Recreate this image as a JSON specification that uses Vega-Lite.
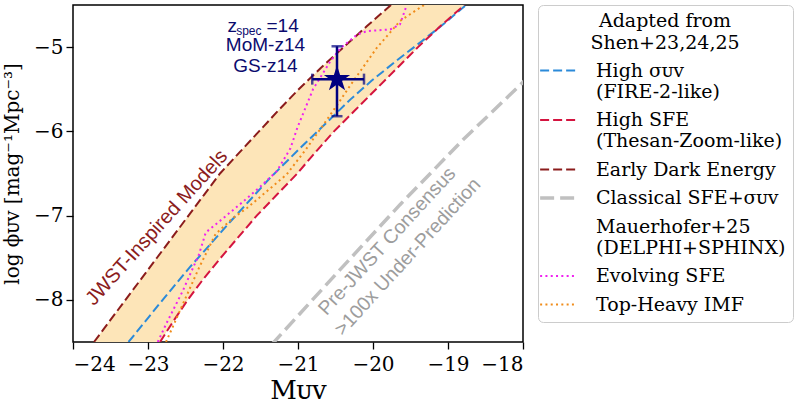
{
  "$schema": "https://vega.github.io/schema/vega-lite/v6.json",
  "width": 450,
  "height": 337,
  "padding": {"left": 2, "top": 4, "right": 5, "bottom": 2},
  "background": "white",
  "datasets": {
    "curves": [
      {"id": "sig", "M": -23.26, "phi": -8.5}, {"id": "sig", "M": -22.85, "phi": -8.05},
      {"id": "sig", "M": -22.45, "phi": -7.62}, {"id": "sig", "M": -21.9, "phi": -7.07},
      {"id": "sig", "M": -21.37, "phi": -6.55}, {"id": "sig", "M": -20.95, "phi": -6.18},
      {"id": "sig", "M": -20.6, "phi": -5.88}, {"id": "sig", "M": -20.3, "phi": -5.62},
      {"id": "sig", "M": -20.02, "phi": -5.4}, {"id": "sig", "M": -19.7, "phi": -5.17},
      {"id": "sig", "M": -19.35, "phi": -4.93}, {"id": "sig", "M": -19.05, "phi": -4.72},
      {"id": "sig", "M": -18.76, "phi": -4.5},

      {"id": "sfe", "M": -22.84, "phi": -8.5}, {"id": "sfe", "M": -22.66, "phi": -8.25},
      {"id": "sfe", "M": -22.47, "phi": -8.0}, {"id": "sfe", "M": -22.26, "phi": -7.75},
      {"id": "sfe", "M": -22.03, "phi": -7.5}, {"id": "sfe", "M": -21.79, "phi": -7.25},
      {"id": "sfe", "M": -21.55, "phi": -7.0}, {"id": "sfe", "M": -21.28, "phi": -6.75},
      {"id": "sfe", "M": -21.01, "phi": -6.5}, {"id": "sfe", "M": -20.77, "phi": -6.25},
      {"id": "sfe", "M": -20.52, "phi": -6.0}, {"id": "sfe", "M": -20.24, "phi": -5.75},
      {"id": "sfe", "M": -19.96, "phi": -5.5}, {"id": "sfe", "M": -19.68, "phi": -5.25},
      {"id": "sfe", "M": -19.4, "phi": -5.0}, {"id": "sfe", "M": -19.1, "phi": -4.75},
      {"id": "sfe", "M": -18.78, "phi": -4.5},

      {"id": "ede", "M": -23.72, "phi": -8.5}, {"id": "ede", "M": -23.51, "phi": -8.25},
      {"id": "ede", "M": -23.3, "phi": -8.0}, {"id": "ede", "M": -23.09, "phi": -7.75},
      {"id": "ede", "M": -22.88, "phi": -7.5}, {"id": "ede", "M": -22.67, "phi": -7.25},
      {"id": "ede", "M": -22.46, "phi": -7.0}, {"id": "ede", "M": -22.25, "phi": -6.75},
      {"id": "ede", "M": -22.04, "phi": -6.5}, {"id": "ede", "M": -21.78, "phi": -6.25},
      {"id": "ede", "M": -21.52, "phi": -6.0}, {"id": "ede", "M": -21.26, "phi": -5.75},
      {"id": "ede", "M": -20.99, "phi": -5.5}, {"id": "ede", "M": -20.7, "phi": -5.25},
      {"id": "ede", "M": -20.39, "phi": -5.0}, {"id": "ede", "M": -20.08, "phi": -4.75},
      {"id": "ede", "M": -19.76, "phi": -4.5},

      {"id": "cls", "M": -21.35, "phi": -8.53}, {"id": "cls", "M": -20.5, "phi": -7.7},
      {"id": "cls", "M": -19.64, "phi": -6.87}, {"id": "cls", "M": -18.8, "phi": -6.1},
      {"id": "cls", "M": -17.98, "phi": -5.4},

      {"id": "evo", "M": -22.87, "phi": -8.5}, {"id": "evo", "M": -22.76, "phi": -8.29},
      {"id": "evo", "M": -22.54, "phi": -7.9}, {"id": "evo", "M": -22.32, "phi": -7.46},
      {"id": "evo", "M": -22.23, "phi": -7.2}, {"id": "evo", "M": -22.05, "phi": -7.07},
      {"id": "evo", "M": -21.78, "phi": -6.87}, {"id": "evo", "M": -21.52, "phi": -6.67},
      {"id": "evo", "M": -21.28, "phi": -6.47}, {"id": "evo", "M": -21.1, "phi": -6.2},
      {"id": "evo", "M": -21.01, "phi": -5.96}, {"id": "evo", "M": -20.9, "phi": -5.72},
      {"id": "evo", "M": -20.8, "phi": -5.5}, {"id": "evo", "M": -20.57, "phi": -5.17},
      {"id": "evo", "M": -20.43, "phi": -5.01}, {"id": "evo", "M": -20.21, "phi": -4.85},
      {"id": "evo", "M": -20.08, "phi": -4.81}, {"id": "evo", "M": -19.77, "phi": -4.79},
      {"id": "evo", "M": -19.64, "phi": -4.73}, {"id": "evo", "M": -19.55, "phi": -4.5},

      {"id": "imf", "M": -22.76, "phi": -8.5}, {"id": "imf", "M": -22.5, "phi": -7.98},
      {"id": "imf", "M": -22.32, "phi": -7.62}, {"id": "imf", "M": -22.1, "phi": -7.22},
      {"id": "imf", "M": -21.87, "phi": -7.03}, {"id": "imf", "M": -21.68, "phi": -6.91},
      {"id": "imf", "M": -21.52, "phi": -6.79}, {"id": "imf", "M": -21.15, "phi": -6.51},
      {"id": "imf", "M": -20.9, "phi": -6.22}, {"id": "imf", "M": -20.66, "phi": -5.92},
      {"id": "imf", "M": -20.45, "phi": -5.65}, {"id": "imf", "M": -20.3, "phi": -5.45},
      {"id": "imf", "M": -19.95, "phi": -5.01}, {"id": "imf", "M": -19.64, "phi": -4.69},
      {"id": "imf", "M": -19.32, "phi": -4.5}
    ],
    "star": [
      {"name": "MoM-z14 / GS-z14", "M": -20.48, "Mlo": -20.81, "Mhi": -20.12, "phi": -5.38, "philo": -5.82, "phihi": -4.99}
    ],
    "notes": [
      {"role": "jwst", "text": "JWST-Inspired Models", "M": -22.883, "phi": -7.143},
      {"role": "pre", "text": "Pre-JWST Consensus", "M": -19.812, "phi": -7.303},
      {"role": "pre", "text": ">100x Under-Prediction", "M": -19.538, "phi": -7.49},
      {"role": "zbig", "text": "z", "M": -21.94, "phi": -4.821},
      {"role": "zsub", "text": "spec", "M": -21.825, "phi": -4.857},
      {"role": "zbig", "text": "=14", "M": -21.42, "phi": -4.821},
      {"role": "name", "text": "MoM-z14", "M": -21.434, "phi": -5.046},
      {"role": "name", "text": "GS-z14", "M": -21.434, "phi": -5.292}
    ]
  },
  "layer": [
    {
      "data": {"name": "curves"},
      "transform": [
        {"filter": "datum.id == 'ede' || datum.id == 'sfe'"},
        {"pivot": "id", "value": "M", "groupby": ["phi"]}
      ],
      "mark": {"type": "area", "orient": "horizontal", "color": "#fde5b8", "clip": true},
      "encoding": {
        "y": {
          "field": "phi", "type": "quantitative",
          "scale": {"domain": [-8.5, -4.5], "nice": false, "zero": false},
          "axis": {"values": [-8, -7, -6, -5], "format": "d", "title": "log ϕᴜᴠ [mag⁻¹Mpc⁻³]", "titleFontSize": 20, "titlePadding": 11, "labelPadding": 3, "labelFont": "DejaVu Serif", "labelFontSize": 20}
        },
        "x": {
          "field": "ede", "type": "quantitative",
          "scale": {"domain": [-24, -18], "nice": false, "zero": false},
          "axis": {"values": [-24, -23, -22, -21, -20, -19, -18], "format": "d", "title": "Mᴜᴠ", "titleFontSize": 26, "titlePadding": 3, "labelPadding": 5, "labelFont": "DejaVu Serif", "labelFontSize": 20}
        },
        "x2": {"field": "sfe"}
      }
    },
    {
      "data": {"name": "curves"},
      "transform": [{"filter": "datum.id != 'cls'"}],
      "mark": {"type": "line", "strokeWidth": 2, "clip": true},
      "encoding": {
        "x": {
          "field": "M", "type": "quantitative",
          "scale": {"domain": [-24, -18], "nice": false, "zero": false},
          "axis": {"values": [-24, -23, -22, -21, -20, -19, -18], "format": "d", "title": "Mᴜᴠ", "titleFontSize": 26, "titlePadding": 3, "labelPadding": 5, "labelFont": "DejaVu Serif", "labelFontSize": 20}
        },
        "y": {
          "field": "phi", "type": "quantitative",
          "scale": {"domain": [-8.5, -4.5], "nice": false, "zero": false},
          "axis": {"values": [-8, -7, -6, -5], "format": "d", "title": "log ϕᴜᴠ [mag⁻¹Mpc⁻³]", "titleFontSize": 20, "titlePadding": 11, "labelPadding": 3, "labelFont": "DejaVu Serif", "labelFontSize": 20}
        },
        "color": {
          "field": "id", "type": "nominal",
          "scale": {
            "domain": ["sig", "sfe", "ede", "cls", "mau", "evo", "imf"],
            "range": ["#2b8ad9", "#d4143f", "#8b1c1c", "#c0c0c0", "#ffffff", "#f020f0", "#f08c1a"]
          },
          "legend": {
            "title": ["Adapted from", "Shen+23,24,25"],
            "labelExpr": "datum.value == 'sig' ? ['High σᴜᴠ', '(FIRE-2-like)'] : datum.value == 'sfe' ? ['High SFE', '(Thesan-Zoom-like)'] : datum.value == 'ede' ? 'Early Dark Energy' : datum.value == 'cls' ? 'Classical SFE+σᴜᴠ' : datum.value == 'mau' ? ['Mauerhofer+25', '(DELPHI+SPHINX)'] : datum.value == 'evo' ? 'Evolving SFE' : 'Top-Heavy IMF'",
            "encode": {"symbols": {"update": {"strokeWidth": {"signal": "datum.value == 'cls' ? 3.5 : 2"}}}}
          }
        },
        "strokeDash": {
          "field": "id", "type": "nominal",
          "scale": {
            "domain": ["sig", "sfe", "ede", "cls", "mau", "evo", "imf"],
            "range": [[9, 4], [9, 4], [9, 4], [14, 6], [1, 0], [2, 3.3], [2, 3.3]]
          },
          "legend": {
            "title": ["Adapted from", "Shen+23,24,25"],
            "labelExpr": "datum.value == 'sig' ? ['High σᴜᴠ', '(FIRE-2-like)'] : datum.value == 'sfe' ? ['High SFE', '(Thesan-Zoom-like)'] : datum.value == 'ede' ? 'Early Dark Energy' : datum.value == 'cls' ? 'Classical SFE+σᴜᴠ' : datum.value == 'mau' ? ['Mauerhofer+25', '(DELPHI+SPHINX)'] : datum.value == 'evo' ? 'Evolving SFE' : 'Top-Heavy IMF'",
            "encode": {"symbols": {"update": {"strokeWidth": {"signal": "datum.value == 'cls' ? 3.5 : 2"}}}}
          }
        }
      }
    },
    {
      "data": {"name": "curves"},
      "transform": [{"filter": "datum.id == 'cls'"}],
      "mark": {"type": "line", "strokeWidth": 3.5, "clip": true},
      "encoding": {
        "x": {"field": "M", "type": "quantitative"},
        "y": {"field": "phi", "type": "quantitative"},
        "color": {"field": "id", "type": "nominal"},
        "strokeDash": {"field": "id", "type": "nominal"}
      }
    },
    {
      "data": {"name": "notes"},
      "transform": [{"filter": "datum.role == 'jwst'"}],
      "mark": {"type": "text", "font": "Liberation Sans", "fontSize": 20, "color": "#8b1c1c", "angle": -48, "align": "center", "baseline": "middle"},
      "encoding": {
        "x": {"field": "M", "type": "quantitative"},
        "y": {"field": "phi", "type": "quantitative"},
        "text": {"field": "text", "type": "nominal"}
      }
    },
    {
      "data": {"name": "notes"},
      "transform": [{"filter": "datum.role == 'pre'"}],
      "mark": {"type": "text", "font": "Liberation Sans", "fontSize": 19.5, "color": "#9d9d9d", "angle": -47.5, "align": "center", "baseline": "middle"},
      "encoding": {
        "x": {"field": "M", "type": "quantitative"},
        "y": {"field": "phi", "type": "quantitative"},
        "text": {"field": "text", "type": "nominal"}
      }
    },
    {
      "data": {"name": "notes"},
      "transform": [{"filter": "datum.role == 'zbig'"}],
      "mark": {"type": "text", "font": "Liberation Sans", "fontSize": 19, "color": "#0b0b6e", "align": "left", "baseline": "alphabetic"},
      "encoding": {
        "x": {"field": "M", "type": "quantitative"},
        "y": {"field": "phi", "type": "quantitative"},
        "text": {"field": "text", "type": "nominal"}
      }
    },
    {
      "data": {"name": "notes"},
      "transform": [{"filter": "datum.role == 'zsub'"}],
      "mark": {"type": "text", "font": "Liberation Sans", "fontSize": 12, "color": "#0b0b6e", "align": "left", "baseline": "alphabetic"},
      "encoding": {
        "x": {"field": "M", "type": "quantitative"},
        "y": {"field": "phi", "type": "quantitative"},
        "text": {"field": "text", "type": "nominal"}
      }
    },
    {
      "data": {"name": "notes"},
      "transform": [{"filter": "datum.role == 'name'"}],
      "mark": {"type": "text", "font": "Liberation Sans", "fontSize": 19, "color": "#0b0b6e", "align": "center", "baseline": "alphabetic"},
      "encoding": {
        "x": {"field": "M", "type": "quantitative"},
        "y": {"field": "phi", "type": "quantitative"},
        "text": {"field": "text", "type": "nominal"}
      }
    },
    {
      "data": {"name": "star"},
      "mark": {"type": "rule", "color": "#000080", "strokeWidth": 2.5},
      "encoding": {
        "x": {"field": "Mlo", "type": "quantitative"},
        "x2": {"field": "Mhi"},
        "y": {"field": "phi", "type": "quantitative"}
      }
    },
    {
      "data": {"name": "star"},
      "mark": {"type": "rule", "color": "#000080", "strokeWidth": 2.5},
      "encoding": {
        "x": {"field": "M", "type": "quantitative"},
        "y": {"field": "philo", "type": "quantitative"},
        "y2": {"field": "phihi"}
      }
    },
    {
      "data": {"name": "star"},
      "transform": [{"fold": ["Mlo", "Mhi"], "as": ["end", "Mend"]}],
      "mark": {"type": "tick", "orient": "vertical", "color": "#000080", "size": 11, "thickness": 2.5},
      "encoding": {
        "x": {"field": "Mend", "type": "quantitative"},
        "y": {"field": "phi", "type": "quantitative"}
      }
    },
    {
      "data": {"name": "star"},
      "transform": [{"fold": ["philo", "phihi"], "as": ["end", "phiend"]}],
      "mark": {"type": "tick", "orient": "horizontal", "color": "#000080", "size": 11, "thickness": 2.5},
      "encoding": {
        "x": {"field": "M", "type": "quantitative"},
        "y": {"field": "phiend", "type": "quantitative"}
      }
    },
    {
      "data": {"name": "star"},
      "mark": {
        "type": "point", "filled": true, "color": "#000080", "opacity": 1, "size": 760,
        "shape": "M0,-1L0.2245,-0.309L0.9511,-0.309L0.3633,0.118L0.5878,0.809L0,0.382L-0.5878,0.809L-0.3633,0.118L-0.9511,-0.309L-0.2245,-0.309Z"
      },
      "encoding": {
        "x": {"field": "M", "type": "quantitative"},
        "y": {"field": "phi", "type": "quantitative"}
      }
    }
  ],
  "config": {
    "font": "DejaVu Serif",
    "view": {"stroke": "black", "strokeWidth": 1.5},
    "axis": {
      "labelFont": "DejaVu Serif", "labelFontSize": 20, "labelColor": "black",
      "tickColor": "black", "tickSize": 7, "tickWidth": 1.3,
      "domain": false, "grid": false,
      "titleFont": "DejaVu Serif", "titleFontWeight": "normal", "titleColor": "black"
    },
    "legend": {
      "orient": "none", "legendX": 465, "legendY": 0,
      "padding": 7, "strokeColor": "#cccccc", "strokeWidth": 1, "cornerRadius": 5, "fillColor": "white",
      "titleFont": "DejaVu Serif", "titleFontSize": 19, "titleFontWeight": "normal", "titleColor": "black",
      "titleLineHeight": 22, "titleAnchor": "middle", "titleAlign": "center", "titlePadding": 8,
      "labelFont": "DejaVu Serif", "labelFontSize": 19, "labelColor": "black", "labelLineHeight": 22,
      "labelLimit": 300, "labelOffset": 28, "labelBaseline": "middle", "symbolOffset": 4,
      "symbolType": "stroke", "symbolSize": 1350, "symbolStrokeWidth": 2, "rowPadding": 8.5
    }
  }
}
